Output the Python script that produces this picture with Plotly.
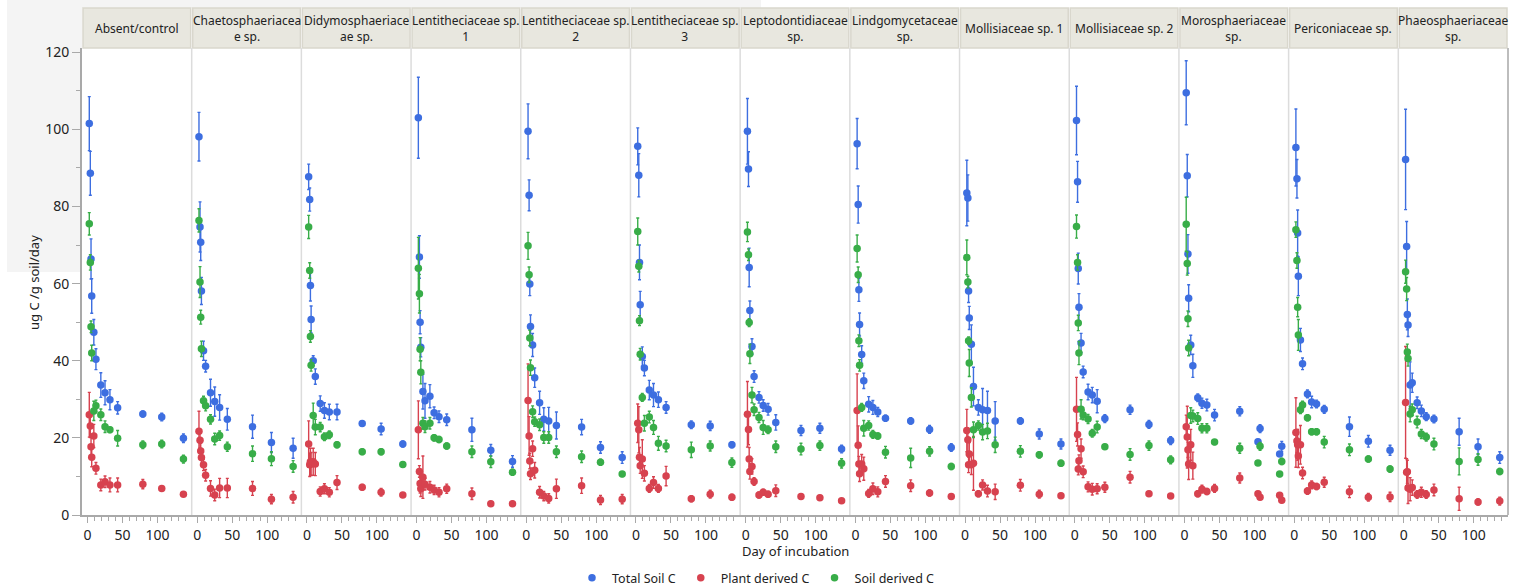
import plotly.graph_objects as go

# ---------------------------------------------------------------- data
days = [2.5, 4, 5, 6, 9, 12, 19, 25, 32, 43, 79, 106, 137]
moro_days = [2.5, 4, 5, 6, 9, 12, 19, 25, 32, 43, 79, 105, 108, 136, 139]

panel_names = [
    "Absent/control", "Chaetosphaeriacea<br>e sp.", "Didymosphaeriace<br>ae sp.",
    "Lentitheciaceae sp.<br>1", "Lentitheciaceae sp.<br>2", "Lentitheciaceae sp.<br>3",
    "Leptodontidiaceae<br>sp.", "Lindgomycetaceae<br>sp.", "Mollisiaceae sp. 1",
    "Mollisiaceae sp. 2", "Morosphaeriaceae<br>sp.", "Periconiaceae sp.",
    "Phaeosphaeriaceae<br>sp.",
]

ctrl_total = [101.5, 88.6, 66.4, 56.8, 47.4, 40.4, 33.7, 31.7, 29.9, 27.8, 26.2, 25.4, 19.9]
ctrl_total_err = [7.0, 5.7, 5.2, 4.5, 3.3, 2.7, 3.2, 3.1, 2.6, 1.6, 0.8, 1.0, 1.1]
ctrl_plant = [26.0, 23.1, 17.7, 15.0, 20.5, 12.1, 7.8, 8.6, 7.8, 7.8, 8.0, 6.9, 5.4]
ctrl_plant_err = [5.8, 3.0, 3.0, 2.5, 3.0, 1.5, 1.5, 1.5, 1.8, 1.8, 1.2, 0.5, 0.5]
ctrl_soil = [75.5, 65.5, 48.8, 42.0, 27.0, 28.3, 26.0, 22.9, 22.1, 19.9, 18.2, 18.4, 14.5]
ctrl_soil_err = [2.9, 2.0, 1.5, 2.0, 2.5, 1.5, 1.5, 1.5, 0.7, 2.0, 1.0, 1.0, 1.0]

chae_total = [98.1, 74.7, 70.7, 58.1, 42.6, 38.6, 31.7, 29.4, 27.9, 24.8, 22.9, 18.8, 17.3]
chae_total_err = [6.3, 6.5, 4.7, 3.5, 2.5, 1.5, 3.5, 3.8, 3.3, 2.8, 3.0, 2.6, 2.6]
chae_plant = [21.7, 19.4, 16.6, 14.9, 13.0, 10.3, 6.9, 5.2, 7.0, 7.0, 6.9, 4.1, 4.6]
chae_plant_err = [5.2, 2.0, 2.0, 2.0, 1.5, 1.5, 2.0, 1.5, 2.5, 2.5, 1.8, 1.2, 1.5]
chae_soil = [76.4, 60.4, 51.3, 43.1, 29.6, 28.3, 24.8, 19.7, 20.6, 17.7, 15.9, 14.6, 12.6]
chae_soil_err = [3.0, 4.0, 1.8, 2.0, 1.2, 1.3, 1.2, 1.5, 1.2, 1.2, 2.0, 1.8, 1.5]

didy_total = [87.7, 81.8, 59.5, 50.7, 40.0, 35.9, 28.9, 27.1, 26.7, 26.7, 23.7, 22.3, 18.4]
didy_total_err = [3.3, 3.0, 4.0, 3.5, 1.3, 2.0, 2.0, 2.0, 2.0, 2.0, 0.7, 1.5, 0.8]
didy_plant = [18.4, 13.0, 13.8, 13.2, 13.8, 13.2, 6.1, 6.8, 5.9, 8.4, 7.2, 5.9, 5.2]
didy_plant_err = [6.0, 3.0, 3.5, 3.0, 3.5, 3.0, 1.2, 1.3, 1.2, 1.8, 0.7, 1.0, 0.5]
didy_soil = [74.7, 63.4, 46.3, 38.8, 25.8, 22.8, 22.8, 20.3, 20.8, 18.2, 16.4, 16.4, 13.1]
didy_soil_err = [3.0, 2.0, 1.5, 1.5, 3.2, 2.0, 1.2, 1.0, 1.0, 0.8, 0.7, 0.8, 0.7]

len1_total = [103.0, 66.9, 50.0, 43.5, 32.0, 29.6, 30.8, 26.5, 25.5, 24.7, 22.1, 16.8, 13.9]
len1_total_err = [10.5, 5.5, 3.0, 2.5, 4.5, 4.5, 3.0, 1.5, 1.5, 1.5, 3.0, 1.5, 1.5]
len1_plant = [22.1, 11.3, 8.2, 6.8, 9.8, 8.0, 7.2, 6.5, 5.9, 6.8, 5.5, 2.9, 2.9]
len1_plant_err = [7.5, 1.5, 2.5, 2.0, 5.5, 1.5, 1.5, 1.2, 1.2, 1.2, 1.5, 0.6, 0.6]
len1_soil = [64.0, 57.4, 43.0, 37.0, 23.8, 22.9, 23.8, 20.0, 19.6, 17.9, 16.4, 13.8, 11.1]
len1_soil_err = [8.0, 5.0, 3.0, 3.0, 1.5, 1.5, 1.5, 0.8, 0.8, 0.8, 1.5, 1.5, 0.8]

len2_total = [99.5, 82.9, 59.9, 48.9, 44.1, 35.6, 29.1, 24.8, 24.4, 23.2, 22.8, 17.5, 14.9]
len2_total_err = [7.1, 4.0, 3.0, 3.0, 3.0, 2.5, 3.0, 3.0, 3.5, 3.5, 2.0, 1.5, 1.5]
len2_plant = [29.7, 20.5, 14.0, 10.7, 17.2, 11.6, 5.9, 4.9, 4.3, 6.8, 7.6, 3.9, 4.1]
len2_plant_err = [9.5, 5.0, 2.0, 1.5, 2.0, 2.0, 1.5, 1.2, 1.2, 2.5, 2.0, 1.2, 1.2]
len2_soil = [69.8, 62.3, 45.9, 38.2, 26.8, 24.2, 23.4, 20.1, 20.1, 16.4, 15.1, 13.7, 10.6]
len2_soil_err = [3.5, 2.0, 2.0, 2.0, 1.5, 1.2, 1.5, 1.5, 1.5, 1.5, 1.5, 0.8, 0.6]

len3_total = [95.6, 88.1, 65.5, 54.5, 41.1, 38.1, 32.4, 31.1, 29.9, 27.9, 23.4, 23.1, 18.2]
len3_total_err = [4.8, 5.6, 4.5, 3.5, 2.5, 2.0, 2.5, 3.0, 2.0, 1.5, 1.0, 1.2, 0.8]
len3_plant = [23.8, 22.1, 15.0, 12.8, 14.5, 10.8, 6.9, 8.4, 6.9, 10.1, 4.2, 5.4, 4.6]
len3_plant_err = [5.0, 6.0, 2.5, 2.0, 5.0, 2.0, 1.0, 1.5, 1.0, 2.5, 0.8, 1.0, 0.8]
len3_soil = [73.5, 64.5, 50.4, 41.7, 30.5, 23.8, 25.4, 22.7, 18.6, 17.9, 16.9, 17.9, 13.6]
len3_soil_err = [3.5, 1.5, 1.3, 1.5, 1.0, 2.0, 1.5, 1.8, 1.8, 1.5, 2.0, 1.3, 1.2]

lept_total = [99.5, 89.7, 64.2, 53.0, 43.7, 35.9, 30.5, 28.4, 27.4, 24.0, 21.9, 22.5, 17.1]
lept_total_err = [8.5, 4.5, 5.0, 2.5, 2.0, 1.5, 1.5, 1.5, 1.5, 2.0, 1.3, 1.3, 1.0]
lept_plant = [26.1, 22.2, 14.5, 11.3, 12.6, 8.7, 5.2, 5.9, 5.4, 6.3, 4.8, 4.5, 3.7]
lept_plant_err = [8.5, 4.0, 3.0, 2.0, 2.0, 1.0, 0.8, 0.8, 0.8, 1.5, 0.6, 0.6, 0.5]
lept_soil = [73.4, 67.5, 49.9, 41.8, 31.1, 27.3, 25.3, 22.7, 22.1, 17.7, 17.1, 18.0, 13.4]
lept_soil_err = [2.5, 1.5, 1.0, 2.5, 2.0, 1.5, 1.3, 1.8, 1.0, 1.5, 1.5, 1.2, 1.2]

lind_total = [96.3, 80.5, 58.4, 49.4, 41.6, 34.8, 28.7, 27.9, 26.7, 25.1, 24.4, 22.2, 17.5]
lind_total_err = [6.5, 4.8, 3.0, 3.0, 2.3, 2.0, 2.0, 1.8, 1.2, 0.8, 0.8, 1.0, 1.0]
lind_plant = [27.1, 18.1, 13.2, 10.7, 13.2, 12.0, 5.6, 6.8, 6.0, 8.7, 7.6, 5.7, 4.8]
lind_plant_err = [9.5, 5.0, 2.0, 2.0, 2.5, 3.0, 1.0, 1.5, 1.3, 1.5, 1.5, 0.8, 0.6]
lind_soil = [69.1, 62.3, 45.2, 38.8, 27.9, 22.5, 23.2, 20.9, 20.5, 16.3, 14.8, 16.5, 12.6]
lind_soil_err = [3.5, 2.0, 1.5, 1.5, 1.0, 2.0, 1.2, 1.0, 0.8, 1.5, 2.5, 1.2, 0.8]

mol1_total = [83.5, 82.2, 58.1, 51.1, 44.3, 33.3, 27.9, 27.3, 27.1, 24.4, 24.4, 21.0, 18.4]
mol1_total_err = [8.5, 6.0, 3.0, 3.0, 5.0, 5.0, 2.0, 5.5, 5.0, 5.0, 0.8, 1.3, 1.3]
mol1_plant = [21.9, 19.5, 13.0, 15.8, 13.0, 13.4, 5.5, 7.8, 6.2, 6.0, 7.7, 5.4, 5.0]
mol1_plant_err = [5.5, 3.0, 2.0, 3.0, 2.5, 7.0, 0.8, 1.3, 1.5, 2.0, 1.5, 1.0, 0.6]
mol1_soil = [66.8, 60.4, 45.2, 39.4, 30.5, 22.1, 23.2, 21.5, 21.8, 18.2, 16.5, 15.6, 13.4]
mol1_soil_err = [4.5, 1.5, 1.0, 3.5, 2.5, 2.0, 1.2, 2.0, 2.0, 2.0, 1.5, 0.8, 0.8]

mol2_total = [102.3, 86.4, 63.9, 53.9, 44.6, 37.1, 31.9, 31.1, 29.5, 25.0, 27.3, 23.5, 19.3]
mol2_total_err = [8.9, 5.3, 4.0, 3.5, 2.5, 1.5, 2.0, 2.0, 3.0, 1.0, 1.2, 1.0, 1.0]
mol2_plant = [27.4, 20.9, 11.9, 14.1, 17.2, 11.2, 7.3, 6.7, 6.8, 7.2, 9.8, 5.5, 4.9]
mol2_plant_err = [8.3, 3.0, 1.5, 1.5, 2.5, 1.5, 1.3, 1.5, 1.3, 1.3, 1.5, 0.6, 0.6]
mol2_soil = [74.8, 65.5, 49.8, 42.0, 27.4, 25.9, 24.9, 21.2, 22.8, 17.7, 15.7, 18.0, 14.3]
mol2_soil_err = [3.0, 2.0, 2.0, 3.0, 2.5, 1.2, 1.2, 1.0, 1.5, 0.6, 1.5, 1.2, 1.0]

moro_total = [109.5, 88.0, 67.7, 56.2, 44.1, 38.7, 30.4, 29.0, 28.5, 25.9, 26.9, 19.0, 22.4, 15.8, 17.8]
moro_total_err = [8.3, 5.5, 5.0, 3.5, 2.5, 3.0, 1.0, 1.3, 1.5, 1.5, 1.2, 0.6, 1.0, 0.6, 1.3]
moro_plant = [22.9, 20.2, 16.9, 13.2, 18.2, 12.8, 5.5, 6.7, 6.1, 6.9, 9.6, 5.5, 4.6, 5.1, 3.8]
moro_plant_err = [3.0, 8.0, 2.0, 4.0, 4.0, 3.5, 0.8, 1.0, 0.8, 1.0, 1.3, 0.6, 0.6, 0.6, 0.6]
moro_soil = [75.4, 65.2, 50.9, 43.3, 25.8, 25.7, 25.0, 22.5, 22.5, 18.9, 17.3, 13.5, 17.8, 10.6, 13.9]
moro_soil_err = [7.0, 3.0, 2.0, 2.0, 2.0, 1.5, 1.5, 1.2, 1.2, 0.6, 1.3, 0.6, 1.0, 0.6, 0.8]

peri_total = [95.3, 87.2, 73.1, 61.9, 45.4, 39.2, 31.4, 29.3, 28.8, 27.4, 22.9, 19.1, 16.8]
peri_total_err = [10.0, 5.0, 6.0, 5.0, 3.0, 1.5, 1.0, 1.5, 1.0, 1.0, 2.5, 1.5, 1.3]
peri_plant = [21.4, 19.2, 18.2, 15.3, 18.2, 10.9, 6.2, 7.8, 7.4, 8.5, 6.0, 4.6, 4.7]
peri_plant_err = [9.0, 3.0, 4.0, 3.0, 5.0, 1.5, 0.8, 1.0, 0.8, 1.3, 1.5, 1.0, 1.2]
peri_soil = [74.0, 66.0, 53.9, 46.7, 27.3, 28.5, 25.2, 21.6, 21.6, 18.9, 16.9, 14.5, 11.9]
peri_soil_err = [2.0, 2.0, 2.5, 4.0, 1.0, 1.0, 0.8, 0.8, 0.8, 1.5, 1.5, 0.8, 0.8]

phae_total = [92.2, 69.6, 52.0, 49.3, 33.7, 34.3, 29.1, 27.0, 25.5, 24.9, 21.6, 17.7, 14.9]
phae_total_err = [13.0, 6.5, 4.0, 3.0, 6.0, 2.5, 1.5, 1.5, 1.0, 1.0, 3.5, 2.0, 1.5]
phae_plant = [29.2, 11.1, 11.2, 7.0, 6.7, 7.1, 5.3, 5.9, 5.3, 6.5, 4.2, 3.4, 3.6]
phae_plant_err = [14.5, 3.5, 3.0, 4.0, 3.0, 2.0, 1.0, 1.3, 1.0, 1.5, 3.0, 0.8, 1.0]
phae_soil = [63.1, 58.6, 42.3, 40.6, 26.2, 27.3, 24.1, 21.0, 20.2, 18.4, 13.9, 14.4, 11.3]
phae_soil_err = [3.0, 3.0, 2.0, 2.0, 2.0, 1.5, 1.5, 1.2, 1.0, 1.5, 3.5, 1.5, 0.8]

series_names = ["Total Soil C", "Plant derived C", "Soil derived C"]
series_colors = ["#3d6ee0", "#d7424f", "#38ad48"]
y_ticks = [0, 20, 40, 60, 80, 100, 120]
x_ticks = [0, 50, 100]

# one row per facet: (days, total, total err, plant, plant err, soil, soil err)
facets = [
    (days, ctrl_total, ctrl_total_err, ctrl_plant, ctrl_plant_err, ctrl_soil, ctrl_soil_err),
    (days, chae_total, chae_total_err, chae_plant, chae_plant_err, chae_soil, chae_soil_err),
    (days, didy_total, didy_total_err, didy_plant, didy_plant_err, didy_soil, didy_soil_err),
    (days, len1_total, len1_total_err, len1_plant, len1_plant_err, len1_soil, len1_soil_err),
    (days, len2_total, len2_total_err, len2_plant, len2_plant_err, len2_soil, len2_soil_err),
    (days, len3_total, len3_total_err, len3_plant, len3_plant_err, len3_soil, len3_soil_err),
    (days, lept_total, lept_total_err, lept_plant, lept_plant_err, lept_soil, lept_soil_err),
    (days, lind_total, lind_total_err, lind_plant, lind_plant_err, lind_soil, lind_soil_err),
    (days, mol1_total, mol1_total_err, mol1_plant, mol1_plant_err, mol1_soil, mol1_soil_err),
    (days, mol2_total, mol2_total_err, mol2_plant, mol2_plant_err, mol2_soil, mol2_soil_err),
    (moro_days, moro_total, moro_total_err, moro_plant, moro_plant_err, moro_soil, moro_soil_err),
    (days, peri_total, peri_total_err, peri_plant, peri_plant_err, peri_soil, peri_soil_err),
    (days, phae_total, phae_total_err, phae_plant, phae_plant_err, phae_soil, phae_soil_err),
]

# ---------------------------------------------------------------- layout geometry (px)
W, H = 1521, 588
ML, MR, MT, MB = 82, 13, 48, 73
PW, PH = W - ML - MR, H - MT - MB
n = len(facets)
FONT = "Noto Sans"
AXIS_GREY = "#a9a9a9"


def px_x(p):
    return (p - ML) / PW


def px_y(p):
    return (H - MB - p) / PH


fig = go.Figure()

for i, (d, *vals) in enumerate(facets):
    xa = "x" if i == 0 else f"x{i + 1}"
    for s in range(3):
        y, err = vals[2 * s], vals[2 * s + 1]
        fig.add_trace(go.Scatter(
            x=d, y=y, mode="markers", xaxis=xa, yaxis="y",
            name=series_names[s], legendgroup=series_names[s], showlegend=(i == 0),
            marker=dict(color=series_colors[s], size=7.5, line=dict(width=0)),
            error_y=dict(type="data", array=err, visible=True, color=series_colors[s],
                         thickness=1.4, width=1.5),
            cliponaxis=False,
        ))

layout = dict(
    width=W, height=H,
    margin=dict(l=ML, r=MR, t=MT, b=MB, pad=0, autoexpand=False),
    paper_bgcolor="white", plot_bgcolor="white",
    font=dict(family=FONT, size=13, color="#222222"),
    showlegend=True,
    legend=dict(orientation="h", x=px_x(572), y=px_y(578), xanchor="left", yanchor="middle",
                font=dict(size=12.5), itemwidth=30, traceorder="normal"),
    yaxis=dict(range=[0, 121.1], tickvals=y_ticks, ticks="outside", ticklen=8,
               tickcolor=AXIS_GREY, showline=True, linecolor=AXIS_GREY, linewidth=2,
               showgrid=False, zeroline=False, anchor="x", tickfont=dict(size=14),
               minor=dict(tickmode="linear", tick0=0, dtick=10, ticks="outside", ticklen=4,
                          tickcolor=AXIS_GREY)),
)
for i in range(n):
    key = "xaxis" if i == 0 else f"xaxis{i + 1}"
    layout[key] = dict(
        domain=[i / n, (i + 1) / n], range=[-7.9, 148.8], anchor="y",
        tickvals=x_ticks, ticks="outside", ticklen=6, tickcolor=AXIS_GREY,
        showline=True, linecolor=AXIS_GREY, linewidth=2, showgrid=False, zeroline=False,
        tickfont=dict(size=14),
        minor=dict(tickmode="linear", tick0=0, dtick=10, ticks="outside", ticklen=4,
                   tickcolor=AXIS_GREY),
    )
fig.update_layout(**layout)

shapes = []
annotations = []
# faint backdrop at the upper left
shapes.append(dict(type="rect", xref="paper", yref="paper", layer="below",
                   x0=px_x(7), x1=px_x(82), y0=px_y(272), y1=px_y(0),
                   fillcolor="#f4f4f4", line=dict(width=0)))
shapes.append(dict(type="rect", xref="paper", yref="paper", layer="below",
                   x0=px_x(7), x1=px_x(761), y0=px_y(8), y1=px_y(0),
                   fillcolor="#f4f4f4", line=dict(width=0)))
for i in range(n):
    # facet strip
    shapes.append(dict(type="rect", xref="paper", yref="paper",
                       x0=i / n + 0.0007, x1=(i + 1) / n - 0.0007, y0=1.0, y1=px_y(8),
                       fillcolor="#e8e7df", line=dict(color="#d9d7cd", width=1.5)))
    annotations.append(dict(text=panel_names[i], xref="paper", yref="paper",
                            x=(i + 0.5) / n, y=px_y(29), xanchor="center", yanchor="middle",
                            showarrow=False, font=dict(size=12, color="#222222")))
    if i > 0:
        shapes.append(dict(type="line", xref="paper", yref="paper", x0=i / n, x1=i / n,
                           y0=0, y1=1, line=dict(color="#dcdcdc", width=1.5)))
shapes.append(dict(type="line", xref="paper", yref="paper", x0=1, x1=1, y0=0, y1=1,
                   line=dict(color="#bdbdbd", width=2)))

annotations.append(dict(text="Day of incubation", xref="paper", yref="paper",
                        x=0.5, y=px_y(551), xanchor="center", yanchor="middle",
                        showarrow=False, font=dict(size=13)))
annotations.append(dict(text="ug C /g soil/day", xref="paper", yref="paper",
                        x=px_x(34), y=px_y(283), xanchor="center", yanchor="middle",
                        textangle=-90, showarrow=False, font=dict(size=13)))
fig.update_layout(shapes=shapes, annotations=annotations)

fig.write_html("out.html")
